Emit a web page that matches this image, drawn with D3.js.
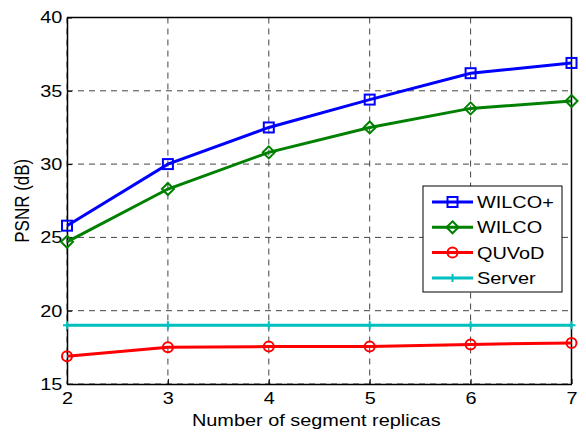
<!DOCTYPE html>
<html>
<head>
<meta charset="utf-8">
<script src="https://cdn.jsdelivr.net/npm/d3@7"></script>
<style>
  body { margin: 0; background: #fff; }
  svg text { font-family: "Liberation Sans", Arial, sans-serif; fill: #000; }
</style>
</head>
<body>
<svg width="586" height="434"></svg>
<script>
// chart data
var replicas = [2, 3, 4, 5, 6, 7];
var wilcoPlus = [25.8, 30.0, 32.5, 34.4, 36.2, 36.9];
var wilco = [24.7, 28.3, 30.8, 32.5, 33.8, 34.3];
var quvod = [16.9, 17.5, 17.55, 17.56, 17.7, 17.8];
var server = [19.0, 19.0, 19.0, 19.0, 19.0, 19.0];
var yTicks = [15, 20, 25, 30, 35, 40];

var seriesList = [
    {name: 'WILCO+', values: wilcoPlus, color: '#0000ff', marker: 'square'},
    {name: 'WILCO', values: wilco, color: '#008000', marker: 'diamond'},
    {name: 'QUVoD', values: quvod, color: '#ff0000', marker: 'circle'},
    {name: 'Server', values: server, color: '#00bfbf', marker: 'plus'}
];

var svg = d3.select('svg');
// plot box ("top" is taken by window.top, so use other names)
var pLeft = 67, pTop = 17.5, pRight = 571.5, pBottom = 384;
// the original figure looks stretched sideways, so text gets a small x-scale
var stretch = 'scale(1.17,1)';

var xScale = d3.scaleLinear().domain([2, 7]).range([pLeft, pRight]);
var yScale = d3.scaleLinear().domain([15, 40]).range([pBottom, pTop]);

// grid lines
var gridG = svg.append('g');
gridG.selectAll('.vgrid')
    .data(replicas)
    .enter().append('line')
    .attr('x1', function(d) { return xScale(d); })
    .attr('x2', function(d) { return xScale(d); })
    .attr('y1', pTop).attr('y2', pBottom)
    .attr('stroke', '#444').attr('stroke-width', 1)
    .attr('stroke-dasharray', '6,5');
gridG.selectAll('.hgrid')
    .data(yTicks)
    .enter().append('line')
    .attr('y1', function(d) { return yScale(d); })
    .attr('y2', function(d) { return yScale(d); })
    .attr('x1', pLeft).attr('x2', pRight)
    .attr('stroke', '#444').attr('stroke-width', 1)
    .attr('stroke-dasharray', '6,5');

// axes
var xAxisG = svg.append('g')
    .attr('transform', 'translate(0,' + pBottom + ')')
    .call(d3.axisBottom(xScale).tickValues(replicas).tickFormat(d3.format('d')).tickSizeInner(-5).tickSizeOuter(0).tickPadding(8));
var yAxisG = svg.append('g')
    .attr('transform', 'translate(' + pLeft + ',0)')
    .call(d3.axisLeft(yScale).tickValues(yTicks).tickSizeInner(-5).tickSizeOuter(0).tickPadding(4));
[xAxisG, yAxisG].forEach(function(g) {
    g.selectAll('text').style('font-size', '17px').attr('transform', stretch);
    g.select('.domain').attr('stroke', '#000').attr('stroke-width', 1.5);
    g.selectAll('.tick line').attr('stroke', '#000');
});

// top / right box
svg.append('line').attr('x1', pLeft).attr('x2', pRight).attr('y1', pTop).attr('y2', pTop)
    .attr('stroke', '#000').attr('stroke-width', 1.5);
svg.append('line').attr('x1', pRight).attr('x2', pRight).attr('y1', pTop).attr('y2', pBottom)
    .attr('stroke', '#000').attr('stroke-width', 1.5);

// axis titles
svg.append('text')
    .attr('transform', 'translate(' + ((pLeft + pRight) / 2 - 3) + ',426) ' + stretch)
    .attr('text-anchor', 'middle')
    .style('font-size', '17px')
    .text('Number of segment replicas');
svg.append('text')
    .attr('transform', 'translate(29,' + ((pTop + pBottom) / 2) + ') rotate(-90) scale(1,1.17)')
    .attr('text-anchor', 'middle')
    .style('font-size', '17px')
    .text('PSNR (dB)');

function drawMarker(g, type, color, x, y) {
    if (type === 'square') {
        g.append('rect').attr('x', x - 5).attr('y', y - 5).attr('width', 10).attr('height', 10)
            .attr('fill', 'none').attr('stroke', color).attr('stroke-width', 2);
    } else if (type === 'diamond') {
        g.append('path').attr('d', 'M' + x + ',' + (y - 6) + 'L' + (x + 6) + ',' + y + 'L' + x + ',' + (y + 6) + 'L' + (x - 6) + ',' + y + 'Z')
            .attr('fill', 'none').attr('stroke', color).attr('stroke-width', 2);
    } else if (type === 'circle') {
        g.append('circle').attr('cx', x).attr('cy', y).attr('r', 5)
            .attr('fill', 'none').attr('stroke', color).attr('stroke-width', 2);
    } else {
        g.append('path').attr('d', 'M' + (x - 4) + ',' + y + 'H' + (x + 4) + 'M' + x + ',' + (y - 4) + 'V' + (y + 4))
            .attr('stroke', color).attr('stroke-width', 2);
    }
}

var line = d3.line()
    .x(function(d, i) { return xScale(replicas[i]); })
    .y(function(d) { return yScale(d); });

seriesList.forEach(function(s) {
    var g = svg.append('g');
    g.append('path').datum(s.values)
        .attr('d', line)
        .attr('fill', 'none')
        .attr('stroke', s.color)
        .attr('stroke-width', 3);
    s.values.forEach(function(v, i) {
        drawMarker(g, s.marker, s.color, xScale(replicas[i]), yScale(v));
    });
});

// legend
var legG = svg.append('g').attr('transform', 'translate(423,186)');
legG.append('rect').attr('width', 139).attr('height', 106)
    .attr('fill', '#fff').attr('stroke', '#000').attr('stroke-width', 1);
seriesList.forEach(function(s, i) {
    var ly = 16 + i * 25.3;
    legG.append('line').attr('x1', 9).attr('x2', 50).attr('y1', ly).attr('y2', ly)
        .attr('stroke', s.color).attr('stroke-width', 3);
    drawMarker(legG, s.marker, s.color, 29.5, ly);
    legG.append('text')
        .attr('transform', 'translate(54,' + (ly + 6) + ') ' + stretch)
        .style('font-size', '17px')
        .text(s.name);
});
</script>
</body>
</html>
